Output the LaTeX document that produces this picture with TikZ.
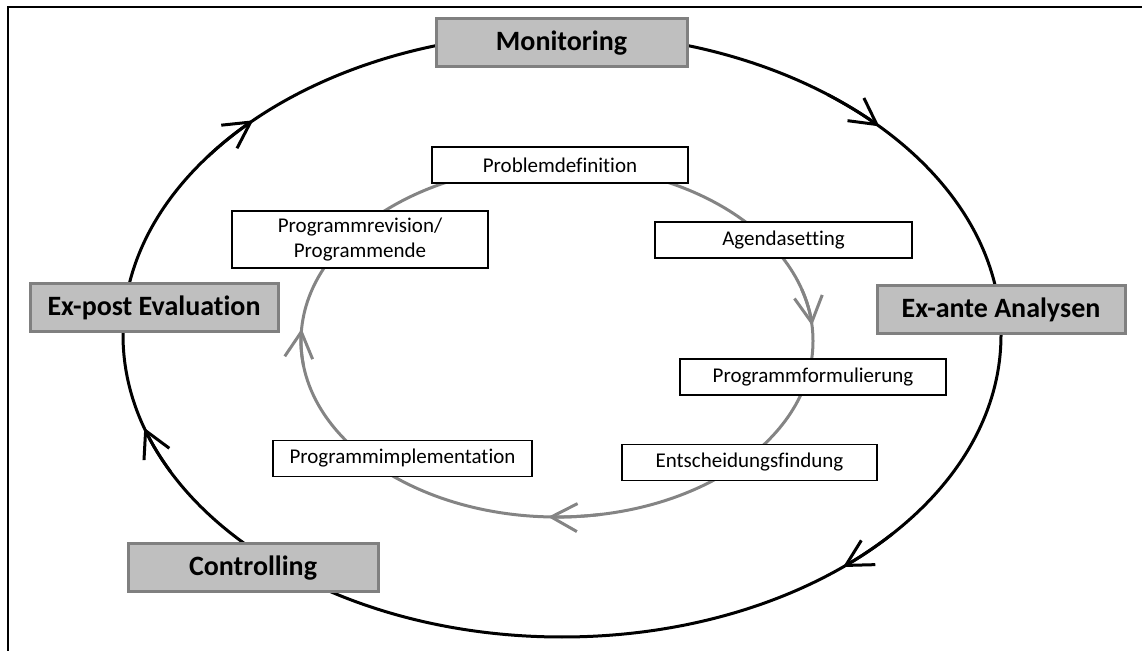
\documentclass[tikz,border=0pt]{standalone}
\usepackage{fontspec}
\setmainfont{Carlito}[Ligatures={NoCommon}]
\usetikzlibrary{arrows.meta}
\definecolor{boxgray}{HTML}{BFBFBF}
\definecolor{boxedge}{HTML}{808080}
\definecolor{cyclegray}{HTML}{848484}
\begin{document}
\begin{tikzpicture}[x=1pt,y=1pt,
  outerbox/.style={draw=boxedge,line width=3pt,fill=boxgray,inner sep=0pt,
    minimum height=48pt,font=\fontsize{28}{33}\selectfont\bfseries},
  innerbox/.style={draw=black,line width=1.4pt,fill=white,inner sep=0pt,
    minimum height=36pt,align=center,font=\fontsize{21}{24.5}\selectfont},
  outerline/.style={draw=black,line width=3pt},
  innerline/.style={draw=cyclegray,line width=3pt},
  barb/.style={-{Straight Barb[length=26pt,width=28pt]},line cap=round}]
\useasboundingbox (0,0) rectangle (1142,650);

% frame (left and top edges)
\coordinate (fbl) at (8,-2);
\coordinate (ftl) at (8,643);
\coordinate (ftr) at (1144,643);
\draw[line width=2.5pt] (fbl) -- (ftl) -- (ftr);

% centres of the two cycles
\coordinate (oc) at (562,315);
\coordinate (ic) at (557,309);

% outer cycle with its direction marks (clockwise)
\draw[outerline] (oc) ellipse[x radius=439, y radius=302];
\foreach \t in {134.7,43.7,-50.2,197.9}
  \draw[outerline,barb] (oc) ++({\t+9}:439 and 302)
    arc[start angle=\t+9, end angle=\t, x radius=439, y radius=302];

% inner cycle with its direction marks (clockwise)
\draw[innerline] (ic) ellipse[x radius=256, y radius=176];
\foreach \t in {5,268,176}
  \draw[innerline,barb] (ic) ++({\t+12}:256 and 176)
    arc[start angle=\t+12, end angle=\t, x radius=256, y radius=176];

% evaluation stages on the outer cycle
\node[outerbox,minimum width=251pt] (mon) at (561.5,607) {Monitoring};
\node[outerbox,minimum width=248pt] (exa) at (1001,340) {Ex-ante Analysen};
\node[outerbox,minimum width=248pt] (exp) at (154,342) {Ex-post Evaluation};
\node[outerbox,minimum width=250pt] (con) at (253,82) {Controlling};

% policy cycle phases on the inner cycle
\node[innerbox,minimum width=256pt] (pd) at (560,485) {Problemdefinition};
\node[innerbox,minimum width=257pt] (ag) at (783.5,410) {Agendasetting};
\node[innerbox,minimum width=266pt] (pf) at (813,273) {Programmformulierung};
\node[innerbox,minimum width=255pt] (ef) at (749.5,187.5) {Entscheidungsfindung};
\node[innerbox,minimum width=259pt] (pi) at (402.5,191.5) {Programmimplementation};
\node[innerbox,minimum width=256pt,minimum height=57pt] (pr) at (360,410.5)
  {Programmrevision/\\Programmende};
\end{tikzpicture}
\end{document}
